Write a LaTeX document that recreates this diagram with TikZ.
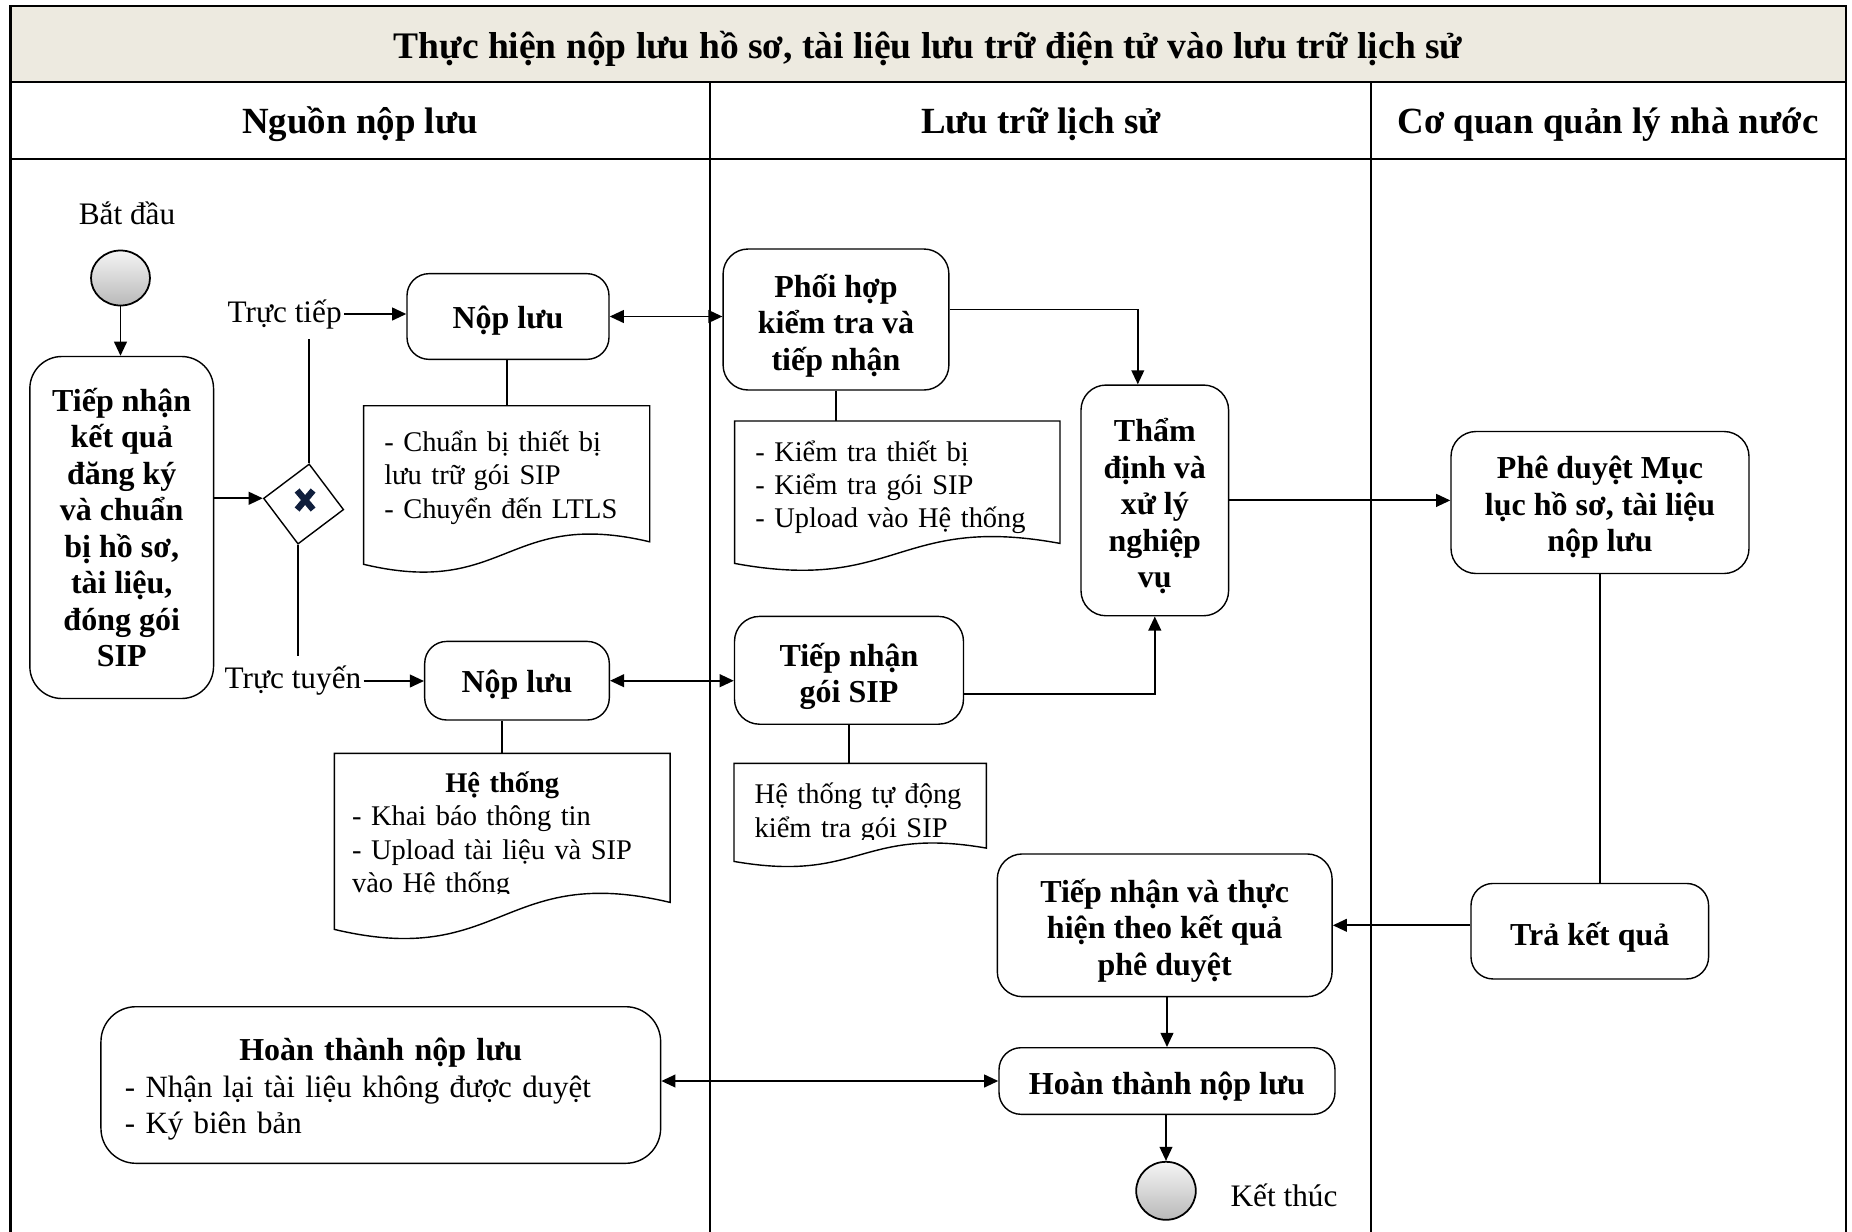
\documentclass[tikz,border=0pt]{standalone}
\usepackage{fontspec}
\setmainfont{Liberation Serif}
\usetikzlibrary{arrows.meta,shapes.geometric,calc}
\definecolor{titlebg}{RGB}{237,234,224}
\definecolor{xmark}{RGB}{15,30,60}

\tikzset{
	box/.style={draw,rounded corners=0.22cm,line width=0.4pt,align=center,inner sep=0pt,font=\fontsize{9.1}{10.4}\selectfont\bfseries},
	boxsize/.style 2 args={minimum width=#1,minimum height=#2},
	hdr/.style={font=\fontsize{10.5}{12}\selectfont\bfseries},
	note/.style={anchor=north west,inner xsep=0.2cm,inner ysep=0pt,align=left,font=\fontsize{8.1}{9.5}\selectfont,execute at begin node={\rule{0pt}{1.0em}}},
	lbl/.style={inner sep=0.5pt,font=\fontsize{8.9}{10}\selectfont},
	link/.style={line width=0.55pt},
	flow/.style={line width=0.55pt,-{Triangle[length=4pt,width=3.6pt]}},
	both/.style={line width=0.55pt,{Triangle[length=4pt,width=3.6pt]}-{Triangle[length=4pt,width=3.6pt]}},
	endpt/.style={draw,ellipse,line width=0.5pt,top color=gray!8,bottom color=gray!55,inner sep=0pt,minimum width=0.59cm,minimum height=0.55cm},
}

\begin{document}
\begin{tikzpicture}[]
		\useasboundingbox (0,0) rectangle (18.52,-12.32);

		%frame and lanes
		\fill[titlebg] (0.105,-0.06) rectangle (18.46,-0.82);
		\draw[line width=0.6pt] (0.105,-12.32) -- (0.105,-0.06) -- (18.46,-0.06) -- (18.46,-12.32);
		\draw[line width=0.6pt] (0.105,-0.82) -- (18.46,-0.82);
		\draw[line width=0.6pt] (0.105,-1.59) -- (18.46,-1.59);
		\draw[line width=0.5pt] (7.10,-0.82) -- (7.10,-12.32);
		\draw[line width=0.5pt] (13.71,-0.82) -- (13.71,-12.32);
		\node[hdr,font=\fontsize{10.67}{12}\selectfont\bfseries] (title) at (9.28,-0.49) {Thực hiện nộp lưu hồ sơ, tài liệu lưu trữ điện tử vào lưu trữ lịch sử};
		\node[hdr] (lane1) at (3.60,-1.245) {Nguồn nộp lưu};
		\node[hdr] (lane2) at (10.41,-1.245) {Lưu trữ lịch sử};
		\node[hdr] (lane3) at (16.08,-1.245) {Cơ quan quản lý nhà nước};

		%nguon nop luu
		\node[lbl] (startlbl) at (1.27,-2.13) {Bắt đầu};
		\node[endpt] (start) at (1.205,-2.78) {};
		\node[box,boxsize={1.837cm}{3.42cm},rounded corners=0.32cm] (recv) at (1.217,-5.275) {Tiếp nhận\\kết quả\\đăng ký\\và chuẩn\\bị hồ sơ,\\tài liệu,\\đóng gói\\SIP};
		\node[draw,diamond,aspect=1,line width=0.4pt,inner sep=0pt,minimum width=0.81cm,minimum height=0.81cm,rotate=-8] (gate) at (3.036,-5.04) {};
		\draw[line width=1.8pt,color=xmark] ($(gate)+(-0.065,0.135)$) -- ($(gate)+(0.095,-0.055)$);
		\draw[line width=1.8pt,color=xmark] ($(gate)+(0.095,0.135)$) -- ($(gate)+(-0.065,-0.055)$);
		\node[lbl] (direct) at (2.847,-3.14) {Trực tiếp};
		\node[lbl] (online) at (2.93,-6.81) {Trực tuyến};
		\node[box,boxsize={2.02cm}{0.857cm}] (nop1) at (5.08,-3.165) {\rule{0pt}{0.95em}Nộp lưu};
		\node[box,boxsize={1.846cm}{0.786cm}] (nop2) at (5.17,-6.807) {\rule{0pt}{0.95em}Nộp lưu};
		\node[note,text width=2.447cm,minimum height=1.347cm] (note1) at (3.636,-4.057) {- Chuẩn bị thiết bị\\lưu trữ gói SIP\\- Chuyển đến LTLS};
		\begin{scope}
		\clip (3.2,-7.4) rectangle (6.8,-8.93);
		\node[note,inner xsep=0.17cm,text width=3.003cm,minimum height=1.477cm,execute at begin node={\rule{0pt}{1.25em}}] (note3) at (3.344,-7.533) {\makebox[\linewidth]{\bfseries Hệ thống}\\- Khai báo thông tin\\- Upload tài liệu và SIP\\vào Hệ thống};
		\end{scope}
		\node[box,rounded corners=0.35cm,align=left,font=\fontsize{8.8}{10.4}\selectfont,inner xsep=0.24cm,text width=5.117cm,minimum height=1.566cm,execute at begin node={\rule{0pt}{1.0em}}] (doneL) at (3.808,-10.85) {\makebox[\linewidth]{\fontsize{9.1}{10.4}\selectfont\bfseries Hoàn thành nộp lưu}\\- Nhận lại tài liệu không được duyệt\\- Ký biên bản};

		%luu tru lich su
		\node[box,boxsize={2.258cm}{1.41cm},rounded corners=0.25cm] (phoi) at (8.36,-3.195) {\rule{0pt}{1.1em}Phối hợp\\kiểm tra và\\tiếp nhận};
		\node[note,text width=2.84cm,minimum height=1.21cm,execute at begin node={\rule{0pt}{1.08em}}] (note2) at (7.346,-4.21) {- Kiểm tra thiết bị\\- Kiểm tra gói SIP\\- Upload vào Hệ thống};
		\node[box,boxsize={1.476cm}{2.307cm},rounded corners=0.25cm] (thamdinh) at (11.548,-5.004) {\rule{0pt}{1.1em}Thẩm\\định và\\xử lý\\nghiệp\\vụ};
		\node[box,boxsize={2.29cm}{1.078cm},rounded corners=0.25cm] (tnsip) at (8.49,-6.703) {\rule{0pt}{1.1em}Tiếp nhận\\gói SIP};
		\begin{scope}
		\clip (7.2,-7.5) rectangle (10.0,-8.39);
		\node[note,text width=2.11cm,minimum height=0.834cm,execute at begin node={\rule{0pt}{1.25em}}] (note4) at (7.34,-7.633) {Hệ thống tự động\\kiểm tra gói SIP};
		\end{scope}
		\node[box,boxsize={3.348cm}{1.427cm},rounded corners=0.25cm] (thuchien) at (11.647,-9.253) {\rule{0pt}{1.05em}Tiếp nhận và thực\\hiện theo kết quả\\phê duyệt};
		\node[box,boxsize={3.36cm}{0.666cm}] (done) at (11.67,-10.81) {\rule{0pt}{1.08em}Hoàn thành nộp lưu};
		\node[endpt,minimum width=0.596cm,minimum height=0.58cm] (stop) at (11.66,-11.908) {};
		\node[lbl] (stoplbl) at (12.84,-11.95) {Kết thúc};

		%co quan quan ly
		\node[box,boxsize={2.98cm}{1.42cm},rounded corners=0.25cm] (pheduyet) at (16.0,-5.025) {\rule{0pt}{1.01em}Phê duyệt Mục\\lục hồ sơ, tài liệu\\nộp lưu};
		\node[box,boxsize={2.376cm}{0.955cm}] (tra) at (15.898,-9.312) {\rule{0pt}{1.1em}Trả kết quả};

		%document shapes
		\draw[line width=0.4pt] (note1.north west) -- (note1.north east) -- (note1.south east) .. controls ($(note1.south)+(0,0.34)$) and ($(note1.south)+(0,-0.565)$) .. ($(note1.south west)+(0,-0.225)$) -- cycle;
		\draw[line width=0.4pt] (note2.north west) -- (note2.north east) -- (note2.south east) .. controls ($(note2.south)+(0,0.30)$) and ($(note2.south)+(0,-0.50)$) .. ($(note2.south west)+(0,-0.20)$) -- cycle;
		\draw[line width=0.4pt] (note3.north west) -- (note3.north east) -- (note3.south east) .. controls ($(note3.south)+(0,0.40)$) and ($(note3.south)+(0,-0.67)$) .. ($(note3.south west)+(0,-0.27)$) -- cycle;
		\draw[line width=0.4pt] (note4.north west) -- (note4.north east) -- (note4.south east) .. controls ($(note4.south)+(0,0.22)$) and ($(note4.south)+(0,-0.353)$) .. ($(note4.south west)+(0,-0.133)$) -- cycle;

		%arrows
		\draw[flow] (start.south) -- (start.south |- recv.north);
		\draw[flow] (recv.east |- gate.west) -- (gate.west);
		\draw[link,shorten >=0.08cm] (gate.north) -- (gate.north |- direct.south);
		\draw[link,shorten >=0.08cm] (gate.south) -- (gate.south |- online.north);
		\draw[flow] (direct.east) -- (direct.east -| nop1.west);
		\draw[flow] (online.east) -- (online.east -| nop2.west);
		\draw[link] (note1.north) -- (note1.north |- nop1.south);
		\draw[link] (note3.north) -- (note3.north |- nop2.south);
		\draw[both] (nop1.east) -- (nop1.east -| phoi.west);
		\draw[both] (nop2.east) -- (nop2.east -| tnsip.west);
		\draw[link] (phoi.south) -- (phoi.south |- note2.north);
		\draw[link] (tnsip.south) -- (tnsip.south |- note4.north);
		\draw[flow] ([yshift=0.1cm]phoi.east) -| ([xshift=-0.17cm]thamdinh.north);
		\draw[flow] ([yshift=-0.237cm]tnsip.east) -| (thamdinh.south);
		\draw[flow] (thamdinh.east) -- (thamdinh.east -| pheduyet.west);
		\draw[link] (pheduyet.south) -- (pheduyet.south |- tra.north);
		\draw[flow] (thuchien.east -| tra.west) -- (thuchien.east);
		\draw[flow] (thuchien.south -| done.north) -- (done.north);
		\draw[both] (done.west -| doneL.east) -- (done.west);
		\draw[flow] (done.south -| stop.north) -- (stop.north);
		\end{tikzpicture}
\end{document}
